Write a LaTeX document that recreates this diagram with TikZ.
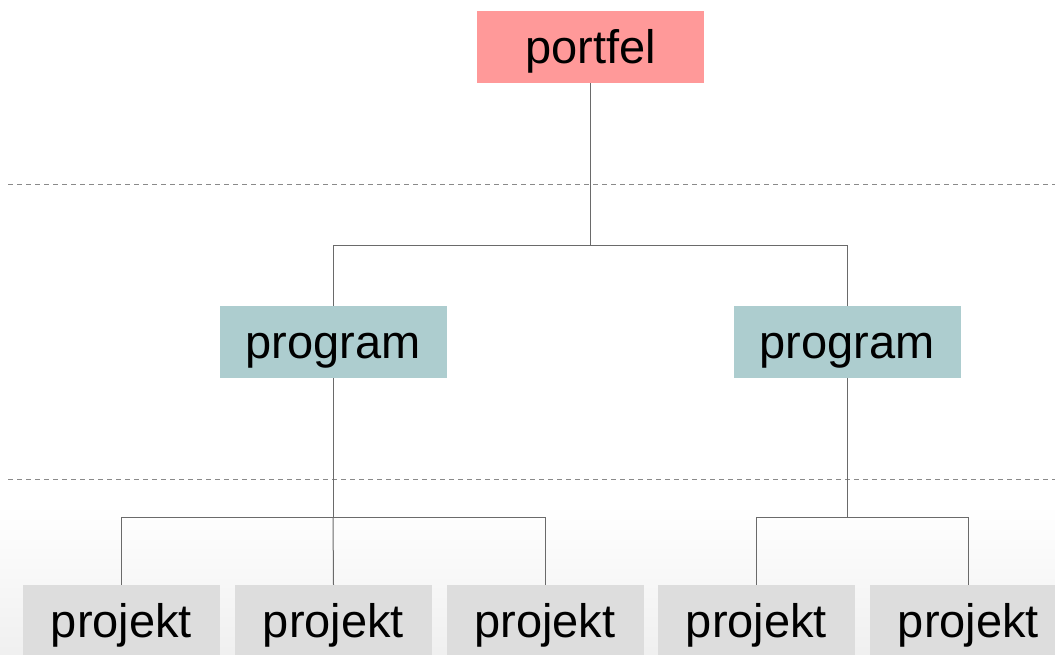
\documentclass[tikz,border=0pt]{standalone}
\usepackage{fontspec}
\setmainfont{Liberation Sans}
\begin{document}
\begin{tikzpicture}[x=1pt,y=-1pt,
  box/.style={inner sep=0pt, text height=41pt, text depth=9pt,
    font=\fontsize{47}{56}\selectfont, text=black},
  portfelbox/.style={box, fill=portfelfill, minimum width=227pt, minimum height=72pt},
  programbox/.style={box, fill=programfill, minimum width=227pt, minimum height=72pt},
  projektbox/.style={box, fill=projektfill, minimum width=197pt, minimum height=72pt},
  link/.style={draw=linkgray, line width=1pt},
  levelline/.style={draw=dashgray, line width=0.8pt, dash pattern=on 5pt off 4pt}]
\definecolor{portfelfill}{HTML}{FF9999}
\definecolor{programfill}{HTML}{ADCDCF}
\definecolor{projektfill}{HTML}{DDDDDD}
\definecolor{linkgray}{HTML}{6A6A6A}
\definecolor{dashgray}{HTML}{8A8A8A}
\useasboundingbox (0,0) rectangle (1055,654);
\fill[white] (0,0) rectangle (1055,654);
% soft grey fade along the lower edge
\shade[top color=white, bottom color=black!6] (0,505) rectangle (1055,654);

% level separators
\coordinate (d1a) at (8,184);
\coordinate (d1b) at (1055,184);
\coordinate (d2a) at (8,479);
\coordinate (d2b) at (1055,479);
\draw[levelline] (d1a) -- (d1b);
\draw[levelline] (d2a) -- (d2b);

% nodes
\node[portfelbox] (pf) at (590.5,47) {portfel};
\node[programbox] (pg1) at (333,342) {program};
\node[programbox] (pg2) at (847,342) {program};
\node[projektbox] (pj1) at (121.5,621) {projekt};
\node[projektbox] (pj2) at (333.5,621) {projekt};
\node[projektbox] (pj3) at (545,621) {projekt};
\node[projektbox] (pj4) at (756.5,621) {projekt};
\node[projektbox] (pj5) at (968.5,621) {projekt};

% junctions
\coordinate (j0) at (590.5,245);
\coordinate (j1) at (333,517);
\coordinate (j2) at (847,517);

% connectors
\draw[link] (pf.south) -- (j0);
\draw[link] (j0) -| (pg1.north);
\draw[link] (j0) -| (pg2.north);
\draw[link] (pg1.south) -- (j1);
\draw[link] (j1) -| (pj1.north);
\draw[link] (j1) -- (pj2.north);
\draw[link] (j1) -| (pj3.north);
\draw[link] (pg2.south) -- (j2);
\draw[link] (j2) -| (pj4.north);
\draw[link] (j2) -| (pj5.north);
\end{tikzpicture}
\end{document}
